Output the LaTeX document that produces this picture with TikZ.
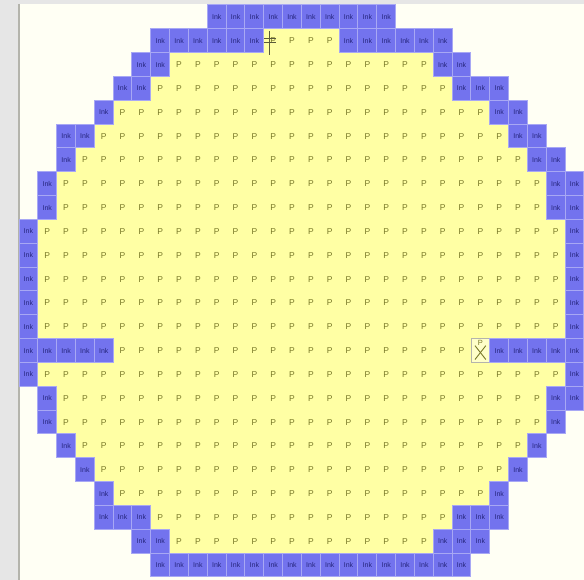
\documentclass[tikz,border=0pt]{standalone}
\usepackage{fontspec}
\setsansfont{Liberation Sans}
\usetikzlibrary{calc}
\definecolor{bgout}{HTML}{E6E6E6}
\definecolor{bgin}{HTML}{FFFFF4}
\definecolor{frameline}{HTML}{B4B4AC}
\definecolor{inkfill}{HTML}{7373EE}
\definecolor{inkedge}{HTML}{A8A8F4}
\definecolor{inktext}{HTML}{26267E}
\definecolor{pfill}{HTML}{FFFFA4}
\definecolor{ptext}{HTML}{787828}
\definecolor{markline}{HTML}{5A5A3A}
\newcommand{\cw}{18.833}
\newcommand{\ch}{23.833}
\tikzset{
  cellbase/.style={minimum width=\cw pt, minimum height=\ch pt, inner sep=0pt, outer sep=0pt, anchor=center},
  inkcell/.style={cellbase, fill=inkfill, draw=inkedge, line width=1pt, text=inktext,
    font=\sffamily\fontsize{7}{8}\selectfont},
  pcell/.style={cellbase, fill=pfill, text=ptext, font=\sffamily\fontsize{8.5}{9}\selectfont},
  xcell/.style={cellbase, fill=pfill!60!white, draw=frameline, line width=0.8pt},
  marker/.style={draw=markline, line width=0.9pt},
}
\begin{document}
\begin{tikzpicture}[x=1pt,y=-1pt]
\useasboundingbox (0,0) rectangle (584,580);
\fill[bgout] (0,0) rectangle (584,580);
\fill[bgin] (19,4) rectangle (584,580);
\draw[frameline, line width=2pt] (18.5,4) -- (18.5,580);
% yellow P cells
\foreach \r/\a/\b in {1/14/16, 2/8/21, 3/7/22, 4/5/24, 5/4/25, 6/3/26, 7/2/27, 8/2/27,
  9/1/28, 10/1/28, 11/1/28, 12/1/28, 13/1/28, 14/5/23, 15/1/28, 16/2/27, 17/2/27,
  18/3/26, 19/4/25, 20/5/24, 21/7/22, 22/8/21}{
  \foreach \c in {\a,...,\b}{
    \node[pcell] (p-\r-\c) at ({19+(\c+0.5)*\cw},{5+(\r+0.5)*\ch}) {P};
  }
}
% special cell row 1 col 13 (cursor mark)
\node[pcell] (s1) at ({19+13.5*\cw},{5+1.5*\ch}) {P};
\draw[marker] (s1.north west) -- (s1.south west);
\draw[marker] ($(s1.north west)+(6,2)$) -- ($(s1.south west)+(6,2)$);
\draw[marker] ($(s1.west)+(0,-2)$) -- ($(s1.west)+(12,-2)$);
\draw[marker] ($(s1.west)+(0,2)$) -- ($(s1.west)+(12,2)$);
% special cell row 14 col 24 (X mark)
\node[xcell] (s2) at ({19+24.5*\cw},{5+14.5*\ch}) {};
\node[text=ptext, font=\sffamily\fontsize{7.5}{8}\selectfont, anchor=north, inner sep=0pt] (s2t) at ($(s2.north)+(0,1.5)$) {P};
\draw[marker, draw=ptext] ($(s2.north west)+(4,7)$) -- ($(s2.south east)+(-4,-3)$);
\draw[marker, draw=ptext] ($(s2.north east)+(-4,7)$) -- ($(s2.south west)+(4,-3)$);
% Ink cells
\foreach \r/\a/\b in {0/10/19, 1/7/12, 1/17/22, 2/6/7, 2/22/23, 3/5/6, 3/23/25, 4/4/4, 4/25/26,
  5/2/3, 5/26/27, 6/2/2, 6/27/28, 7/1/1, 7/28/29, 8/1/1, 8/28/29, 9/0/0, 9/29/29,
  10/0/0, 10/29/29, 11/0/0, 11/29/29, 12/0/0, 12/29/29, 13/0/0, 13/29/29, 14/0/4, 14/25/29,
  15/0/0, 15/29/29, 16/1/1, 16/28/29, 17/1/1, 17/28/28, 18/2/2, 18/27/27, 19/3/3, 19/26/26,
  20/4/4, 20/25/25, 21/4/6, 21/23/25, 22/6/7, 22/22/24, 23/7/23}{
  \foreach \c in {\a,...,\b}{
    \node[inkcell] (i-\r-\c) at ({19+(\c+0.5)*\cw},{5+(\r+0.5)*\ch}) {Ink};
  }
}
\end{tikzpicture}
\end{document}
